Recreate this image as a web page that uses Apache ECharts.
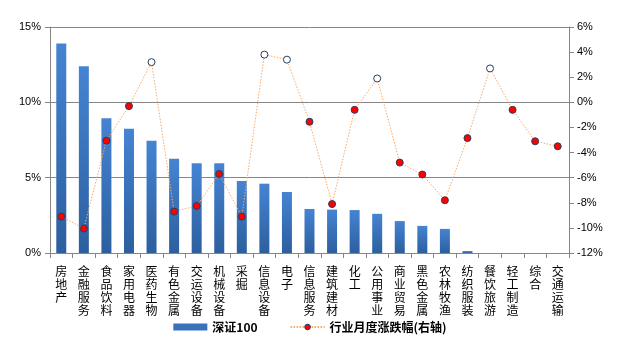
<!DOCTYPE html>
<html>
<head>
<meta charset="utf-8">
<script src="https://cdn.jsdelivr.net/npm/echarts@6/dist/echarts.min.js"></script>
<style>
  html, body { margin: 0; padding: 0; background: #fff; }
  #chart { width: 620px; height: 345px; }
</style>
</head>
<body>
<div id="chart"></div>
<script>
// Industry names (x axis)
const categories = ['房地产', '金融服务', '食品饮料', '家用电器', '医药生物', '有色金属', '交运设备', '机械设备',
  '采掘', '信息设备', '电子', '信息服务', '建筑建材', '化工', '公用事业', '商业贸易', '黑色金属', '农林牧渔',
  '纺织服装', '餐饮旅游', '轻工制造', '综合', '交通运输'];

// 深证100 weight by industry (%), left axis
const weights = [13.9, 12.4, 8.95, 8.25, 7.45, 6.25, 5.95, 5.95, 4.78, 4.6, 4.05, 2.92,
  2.88, 2.85, 2.6, 2.12, 1.8, 1.6, 0.13, 0, 0, 0, 0];

// Monthly industry change (%), right axis
const monthlyChange = [-9.1, -10.05, -3.05, -0.3, 3.2, -8.7, -8.25, -5.7, -9.1, 3.8, 3.4, -1.55,
  -8.1, -0.6, 1.9, -4.8, -5.75, -7.8, -2.85, 2.7, -0.6, -3.1, -3.5];

const barName = '深证100';
const lineName = '行业月度涨跌幅(右轴)';

const chart = echarts.init(document.getElementById('chart'));
const axisGray = '#868686';
const labelFont = { fontFamily: 'Liberation Sans, Arial, sans-serif', fontSize: 11, color: '#000' };

chart.setOption({
  animation: false,
  grid: { left: 50, right: 51, top: 27, bottom: 92 },
  legend: {
    bottom: 7,
    left: 'center',
    itemGap: 32,
    itemWidth: 34,
    itemHeight: 7,
    textStyle: { fontFamily: 'Noto Sans CJK SC, sans-serif', fontSize: 12, fontWeight: 'bold', color: '#000' },
    data: [
      { name: barName, icon: 'rect', itemStyle: { color: '#3A72BA' } },
      { name: lineName, itemStyle: { color: '#FF0000', borderColor: '#1F3864', borderWidth: 1 } }
    ]
  },
  xAxis: {
    type: 'category',
    data: categories,
    axisLine: { lineStyle: { color: axisGray, width: 1 } },
    axisTick: { show: true, interval: 0, length: 5, lineStyle: { color: axisGray } },
    axisLabel: {
      interval: 0,
      margin: 12,
      fontFamily: 'Noto Sans CJK SC, sans-serif',
      fontSize: 12,
      lineHeight: 13,
      color: '#000',
      verticalAlign: 'top',
      formatter: v => v.split('').join('\n')
    }
  },
  yAxis: [
    {
      type: 'value',
      min: 0, max: 15, interval: 5,
      axisLine: { show: true, lineStyle: { color: axisGray } },
      axisTick: { show: true, length: 5, lineStyle: { color: axisGray } },
      splitLine: { show: true, lineStyle: { color: axisGray, width: 1 } },
      axisLabel: Object.assign({ formatter: '{value}%', margin: 9 }, labelFont)
    },
    {
      type: 'value',
      min: -12, max: 6, interval: 2,
      axisLine: { show: true, lineStyle: { color: axisGray } },
      axisTick: { show: true, length: 5, lineStyle: { color: axisGray } },
      splitLine: { show: false },
      axisLabel: Object.assign({ formatter: '{value}%', margin: 8 }, labelFont)
    }
  ],
  series: [
    {
      name: barName,
      type: 'bar',
      yAxisIndex: 0,
      data: weights,
      barWidth: 10,
      itemStyle: {
        color: new echarts.graphic.LinearGradient(0, 0, 0, 1, [
          { offset: 0, color: '#4584D3' },
          { offset: 1, color: '#2C5F9E' }
        ])
      }
    },
    {
      name: lineName,
      type: 'line',
      yAxisIndex: 1,
      data: monthlyChange,
      symbol: 'circle',
      symbolSize: 7,
      lineStyle: { color: '#F7A867', width: 1, type: [1.5, 1.5] },
      itemStyle: {
        color: p => (p.value >= 0 ? '#FFFFFF' : '#FF0000'),
        borderColor: '#243F60',
        borderWidth: 1
      },
      z: 5
    }
  ]
});
</script>
</body>
</html>
